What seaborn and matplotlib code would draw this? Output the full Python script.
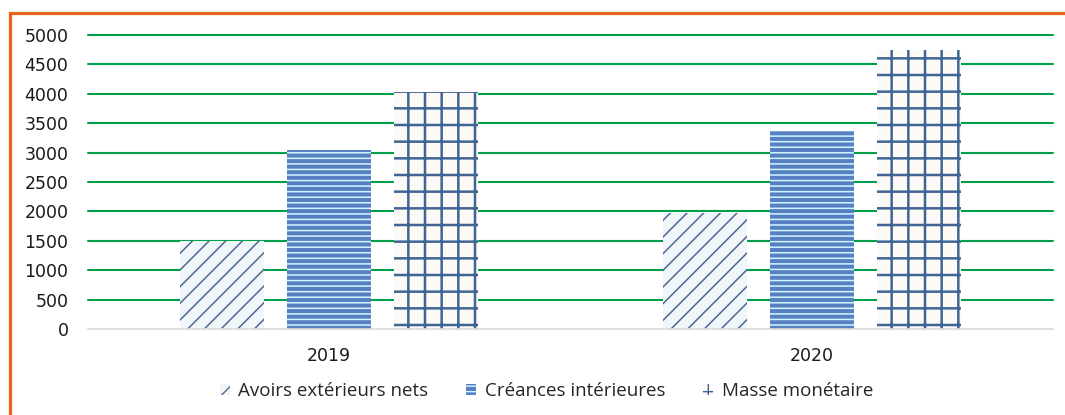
import pandas as pd
import matplotlib.pyplot as plt
import seaborn as sns
from matplotlib.patches import Patch
from matplotlib.lines import Line2D

years = ['2019', '2020']
avoirs = [1500, 1980]
creances = [3050, 3370]
masse = [4030, 4740]
series_names = ['Avoirs extérieurs nets', 'Créances intérieures', 'Masse monétaire']

df = pd.DataFrame({
    'annee': years * 3,
    'valeur': avoirs + creances + masse,
    'serie': [s for s in series_names for _ in years],
})

sns.set_theme(style="white")
plt.rcParams['font.family'] = ['DejaVu Sans']

# fill colour, hatch colour, hatch pattern, hatch width
styles = [
    ('#f0f6fa', '#4d6890', '//', 1.1),
    ('#5680c2', '#d2f6ff', '---', 1.1),
    ('#fcf9f7', '#3f6593', '+', 1.8),
]

fig = plt.figure(figsize=(10.65, 4.15), dpi=100)
ax = fig.add_axes([0.0826, 0.2072, 0.9061, 0.7085])

sns.barplot(data=df, x='annee', y='valeur', hue='serie', order=years,
            hue_order=series_names, width=0.665, gap=0.215, ax=ax, legend=False)

for cont, (fc, hc, hatch, hw) in zip(ax.containers, styles):
    for bar in cont:
        bar.set_facecolor(fc)
        bar.set_edgecolor(hc)
        bar.set_hatch(hatch)
        bar.set_linewidth(0)
        if hasattr(bar, 'set_hatch_linewidth'):
            bar.set_hatch_linewidth(hw)

ax.set_ylim(0, 5000)
ax.set_yticks(range(0, 5001, 500))
ax.yaxis.grid(True, color='#00a04a', linewidth=1.5)
ax.set_axisbelow(True)
for s in ['top', 'right', 'left']:
    ax.spines[s].set_visible(False)
ax.spines['bottom'].set_color('#d9d9d9')
ax.spines['bottom'].set_linewidth(1.2)
ax.spines['bottom'].set_zorder(3)
ax.tick_params(axis='y', length=0, pad=14, labelsize=12.5, labelcolor='#1a1a1a')
ax.tick_params(axis='x', length=0, pad=13, labelsize=12.5, labelcolor='#1a1a1a')
ax.set_xlabel('')
ax.set_ylabel('')
gridlines = ax.get_ygridlines()
for gl in gridlines:
    gl.set_clip_on(False)
gridlines[0].set_visible(False)

handles = [Patch(facecolor=fc, edgecolor=hc, hatch=h, linewidth=0) for fc, hc, h, _ in styles]
fig.legend(handles, series_names, loc='center', bbox_to_anchor=(0.513, 0.058), ncol=3,
           frameon=False, handlelength=0.55, handleheight=0.55, handletextpad=0.45,
           columnspacing=2.0, prop={'family': ['Open Sans', 'DejaVu Sans'], 'size': 13.5})

# orange frame (top and left only)
fig.add_artist(Line2D([0.0094, 0.0094, 1.0], [0.0, 0.969, 0.969], transform=fig.transFigure,
                      color='#e8641e', linewidth=2.3, solid_joinstyle='miter'))

fig.savefig('out.png', dpi=100)
